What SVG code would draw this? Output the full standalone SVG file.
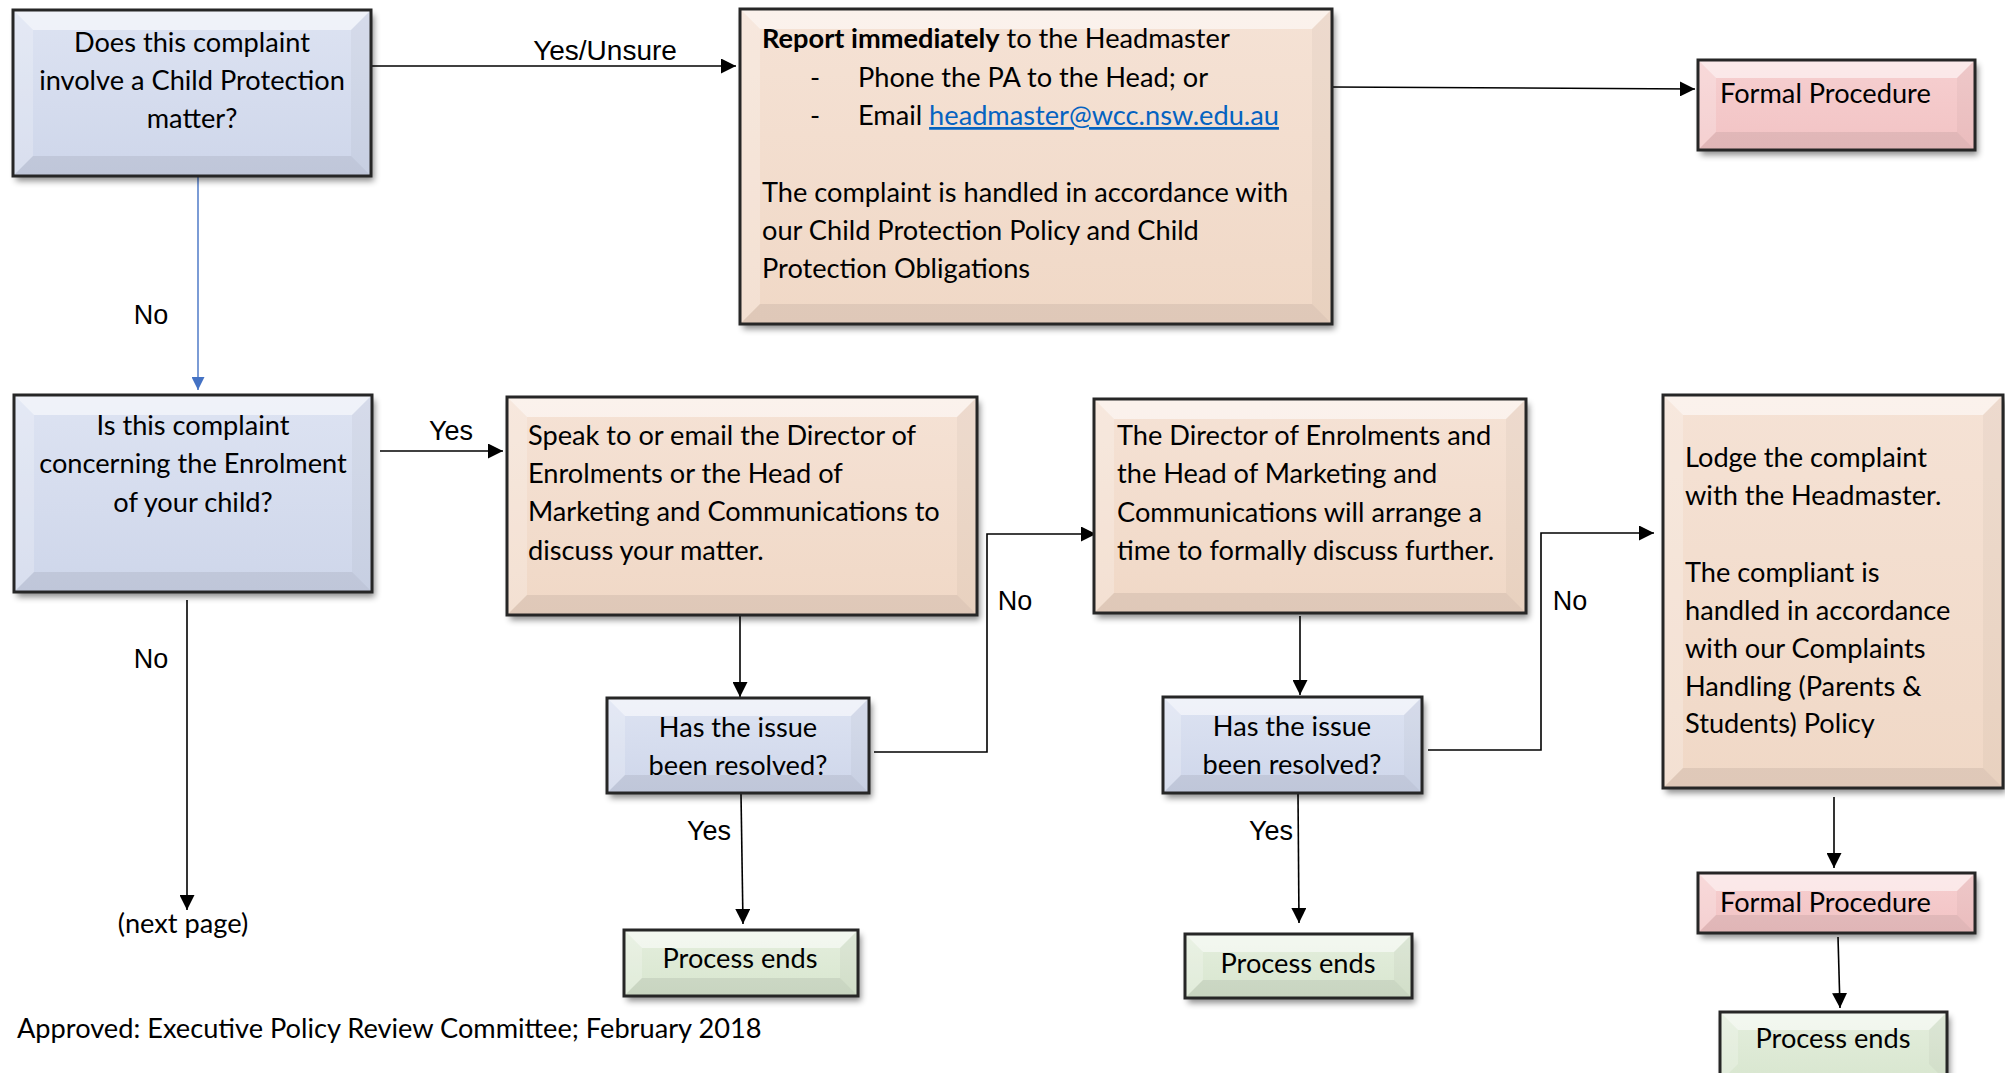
<svg xmlns="http://www.w3.org/2000/svg" width="2005" height="1073" viewBox="0 0 2005 1073">
<style>
.t{font-family:Lato,"Liberation Sans",sans-serif;font-size:27.2px;fill:#000}
.c{text-anchor:middle}
.lab{font-family:"Liberation Sans",Arial,sans-serif;font-size:27px;fill:#000}
.ln{fill:none;stroke:#000;stroke-width:1.6}
.bl{fill:none;stroke:#4472c4;stroke-width:1.4}
.bd{fill:none;stroke:#262626;stroke-width:3}
.tp{fill:#fff;opacity:.55}
.lf{fill:#fff;opacity:.22}
.rt{fill:#000;opacity:.03}
.bt{fill:#000;opacity:.07}
.blue{fill:url(#gBlue)}
.peach{fill:url(#gPeach)}
.pink{fill:url(#gPink)}
.green{fill:url(#gGreen)}
.sh{filter:url(#shadow)}
</style>
<defs>
<filter id="shadow" x="-10%" y="-10%" width="130%" height="140%">
<feDropShadow dx="3" dy="5" stdDeviation="3" flood-color="#000" flood-opacity="0.45"/>
</filter>
<linearGradient id="gBlue" x1="0" y1="0" x2="0" y2="1"><stop offset="0" stop-color="#dde3f2"/><stop offset="1" stop-color="#ced6ea"/></linearGradient>
<linearGradient id="gPeach" x1="0" y1="0" x2="0" y2="1"><stop offset="0" stop-color="#f5e2d5"/><stop offset="1" stop-color="#f0d8c6"/></linearGradient>
<linearGradient id="gPink" x1="0" y1="0" x2="0" y2="1"><stop offset="0" stop-color="#f6cfd0"/><stop offset="1" stop-color="#f2c3c4"/></linearGradient>
<linearGradient id="gGreen" x1="0" y1="0" x2="0" y2="1"><stop offset="0" stop-color="#e4eedd"/><stop offset="1" stop-color="#d8e6cf"/></linearGradient>
<marker id="ahL" viewBox="0 0 10 10" refX="10" refY="5" markerWidth="15" markerHeight="15" markerUnits="userSpaceOnUse" orient="auto"><path d="M0,0 L10,5 L0,10 z" fill="#000"/></marker>
<marker id="ahbL" viewBox="0 0 10 10" refX="10" refY="5" markerWidth="13" markerHeight="13" markerUnits="userSpaceOnUse" orient="auto"><path d="M0,0 L10,5 L0,10 z" fill="#4472c4"/></marker>
</defs>
<rect width="2005" height="1073" fill="#fff"/>

<g id="connectors">
<line class="ln" x1="371" y1="66" x2="736" y2="66" marker-end="url(#ahL)"/>
<line class="ln" x1="1332" y1="87" x2="1695" y2="89" marker-end="url(#ahL)"/>
<line class="bl" x1="198" y1="177" x2="198" y2="390" marker-end="url(#ahbL)"/>
<line class="ln" x1="380" y1="451" x2="503" y2="451" marker-end="url(#ahL)"/>
<line class="ln" x1="187" y1="600" x2="187" y2="910" marker-end="url(#ahL)"/>
<line class="ln" x1="740" y1="616" x2="740" y2="697" marker-end="url(#ahL)"/>
<line class="ln" x1="741" y1="794" x2="743" y2="924" marker-end="url(#ahL)"/>
<polyline class="ln" points="874,752 987,752 987,534 1096,534" marker-end="url(#ahL)"/>
<line class="ln" x1="1300" y1="616" x2="1300" y2="695" marker-end="url(#ahL)"/>
<line class="ln" x1="1298" y1="794" x2="1299" y2="923" marker-end="url(#ahL)"/>
<polyline class="ln" points="1428,750 1541,750 1541,533 1654,533" marker-end="url(#ahL)"/>
<line class="ln" x1="1834" y1="797" x2="1834" y2="868" marker-end="url(#ahL)"/>
<line class="ln" x1="1838" y1="937" x2="1840" y2="1008" marker-end="url(#ahL)"/>
<text class="lab" x="605" y="60" text-anchor="middle" style="font-size:28px">Yes/Unsure</text>
<text class="lab" x="151" y="324" text-anchor="middle">No</text>
<text class="lab" x="451" y="440" text-anchor="middle">Yes</text>
<text class="lab" x="151" y="668" text-anchor="middle">No</text>
<text class="lab" x="1015" y="610" text-anchor="middle">No</text>
<text class="lab" x="1570" y="610" text-anchor="middle">No</text>
<text class="lab" x="709" y="840" text-anchor="middle">Yes</text>
<text class="lab" x="1271" y="840" text-anchor="middle">Yes</text>
</g>

<g id="nodeA">
<rect class="blue sh" x="13" y="10" width="358" height="166"/>
<polygon class="tp" points="13,10 371,10 351,30 33,30"/>
<polygon class="lf" points="13,10 33,30 33,156 13,176"/>
<polygon class="rt" points="371,10 371,176 351,156 351,30"/>
<polygon class="bt" points="13,176 33,156 351,156 371,176"/>
<rect class="bd" x="13" y="10" width="358" height="166"/>
<text class="t c" x="192" y="52">Does this complaint</text>
<text class="t c" x="192" y="90">involve a Child Protection</text>
<text class="t c" x="192" y="128">matter?</text>
</g>

<g id="nodeB">
<rect class="peach sh" x="740" y="9" width="592" height="315"/>
<polygon class="tp" points="740,9 1332,9 1312,29 760,29"/>
<polygon class="lf" points="740,9 760,29 760,304 740,324"/>
<polygon class="rt" points="1332,9 1332,324 1312,304 1312,29"/>
<polygon class="bt" points="740,324 760,304 1312,304 1332,324"/>
<rect class="bd" x="740" y="9" width="592" height="315"/>
<text class="t" x="762" y="48"><tspan font-weight="bold">Report immediately</tspan> to the Headmaster</text>
<text class="t" x="810" y="87">-</text>
<text class="t" x="858" y="87">Phone the PA to the Head; or</text>
<text class="t" x="810" y="125">-</text>
<text class="t" x="858" y="125">Email <tspan fill="#0563c1" text-decoration="underline">headmaster@wcc.nsw.edu.au</tspan></text>
<text class="t" x="762" y="202">The complaint is handled in accordance with</text>
<text class="t" x="762" y="240">our Child Protection Policy and Child</text>
<text class="t" x="762" y="278">Protection Obligations</text>
</g>

<g id="nodeC">
<rect class="pink sh" x="1698" y="60" width="277" height="90"/>
<polygon class="tp" points="1698,60 1975,60 1957,78 1716,78"/>
<polygon class="lf" points="1698,60 1716,78 1716,132 1698,150"/>
<polygon class="rt" points="1975,60 1975,150 1957,132 1957,78"/>
<polygon class="bt" points="1698,150 1716,132 1957,132 1975,150"/>
<rect class="bd" x="1698" y="60" width="277" height="90"/>
<text class="t" x="1720" y="103">Formal Procedure</text>
</g>

<g id="nodeD">
<rect class="blue sh" x="14" y="395" width="358" height="197"/>
<polygon class="tp" points="14,395 372,395 352,415 34,415"/>
<polygon class="lf" points="14,395 34,415 34,572 14,592"/>
<polygon class="rt" points="372,395 372,592 352,572 352,415"/>
<polygon class="bt" points="14,592 34,572 352,572 372,592"/>
<rect class="bd" x="14" y="395" width="358" height="197"/>
<text class="t c" x="193" y="435">Is this complaint</text>
<text class="t c" x="193" y="473">concerning the Enrolment</text>
<text class="t c" x="193" y="512">of your child?</text>
</g>

<g id="nodeE">
<rect class="peach sh" x="507" y="397" width="470" height="218"/>
<polygon class="tp" points="507,397 977,397 957,417 527,417"/>
<polygon class="lf" points="507,397 527,417 527,595 507,615"/>
<polygon class="rt" points="977,397 977,615 957,595 957,417"/>
<polygon class="bt" points="507,615 527,595 957,595 977,615"/>
<rect class="bd" x="507" y="397" width="470" height="218"/>
<text class="t" x="528" y="445">Speak to or email the Director of</text>
<text class="t" x="528" y="483">Enrolments or the Head of</text>
<text class="t" x="528" y="521">Marketing and Communications to</text>
<text class="t" x="528" y="560">discuss your matter.</text>
</g>

<g id="nodeF1">
<rect class="blue sh" x="607" y="698" width="262" height="95"/>
<polygon class="tp" points="607,698 869,698 851,716 625,716"/>
<polygon class="lf" points="607,698 625,716 625,775 607,793"/>
<polygon class="rt" points="869,698 869,793 851,775 851,716"/>
<polygon class="bt" points="607,793 625,775 851,775 869,793"/>
<rect class="bd" x="607" y="698" width="262" height="95"/>
<text class="t c" x="738" y="737">Has the issue</text>
<text class="t c" x="738" y="775">been resolved?</text>
</g>

<g id="nodeG1">
<rect class="green sh" x="624" y="930" width="234" height="66"/>
<polygon class="tp" points="624,930 858,930 840,948 642,948"/>
<polygon class="lf" points="624,930 642,948 642,978 624,996"/>
<polygon class="rt" points="858,930 858,996 840,978 840,948"/>
<polygon class="bt" points="624,996 642,978 840,978 858,996"/>
<rect class="bd" x="624" y="930" width="234" height="66"/>
<text class="t c" x="740" y="968">Process ends</text>
</g>

<g id="nodeH">
<rect class="peach sh" x="1094" y="399" width="432" height="214"/>
<polygon class="tp" points="1094,399 1526,399 1506,419 1114,419"/>
<polygon class="lf" points="1094,399 1114,419 1114,593 1094,613"/>
<polygon class="rt" points="1526,399 1526,613 1506,593 1506,419"/>
<polygon class="bt" points="1094,613 1114,593 1506,593 1526,613"/>
<rect class="bd" x="1094" y="399" width="432" height="214"/>
<text class="t" x="1117" y="445">The Director of Enrolments and</text>
<text class="t" x="1117" y="483">the Head of Marketing and</text>
<text class="t" x="1117" y="522">Communications will arrange a</text>
<text class="t" x="1117" y="560">time to formally discuss further.</text>
</g>

<g id="nodeF2">
<rect class="blue sh" x="1163" y="697" width="259" height="96"/>
<polygon class="tp" points="1163,697 1422,697 1404,715 1181,715"/>
<polygon class="lf" points="1163,697 1181,715 1181,775 1163,793"/>
<polygon class="rt" points="1422,697 1422,793 1404,775 1404,715"/>
<polygon class="bt" points="1163,793 1181,775 1404,775 1422,793"/>
<rect class="bd" x="1163" y="697" width="259" height="96"/>
<text class="t c" x="1292" y="736">Has the issue</text>
<text class="t c" x="1292" y="774">been resolved?</text>
</g>

<g id="nodeG2">
<rect class="green sh" x="1185" y="934" width="227" height="64"/>
<polygon class="tp" points="1185,934 1412,934 1394,952 1203,952"/>
<polygon class="lf" points="1185,934 1203,952 1203,980 1185,998"/>
<polygon class="rt" points="1412,934 1412,998 1394,980 1394,952"/>
<polygon class="bt" points="1185,998 1203,980 1394,980 1412,998"/>
<rect class="bd" x="1185" y="934" width="227" height="64"/>
<text class="t c" x="1298" y="973">Process ends</text>
</g>

<g id="nodeI">
<rect class="peach sh" x="1663" y="395" width="340" height="393"/>
<polygon class="tp" points="1663,395 2003,395 1983,415 1683,415"/>
<polygon class="lf" points="1663,395 1683,415 1683,768 1663,788"/>
<polygon class="rt" points="2003,395 2003,788 1983,768 1983,415"/>
<polygon class="bt" points="1663,788 1683,768 1983,768 2003,788"/>
<rect class="bd" x="1663" y="395" width="340" height="393"/>
<text class="t" x="1685" y="467">Lodge the complaint</text>
<text class="t" x="1685" y="505">with the Headmaster.</text>
<text class="t" x="1685" y="582">The compliant is</text>
<text class="t" x="1685" y="620">handled in accordance</text>
<text class="t" x="1685" y="658">with our Complaints</text>
<text class="t" x="1685" y="696">Handling (Parents &amp;</text>
<text class="t" x="1685" y="733">Students) Policy</text>
</g>

<g id="nodeJ">
<rect class="pink sh" x="1698" y="873" width="277" height="60"/>
<polygon class="tp" points="1698,873 1975,873 1957,891 1716,891"/>
<polygon class="lf" points="1698,873 1716,891 1716,915 1698,933"/>
<polygon class="rt" points="1975,873 1975,933 1957,915 1957,891"/>
<polygon class="bt" points="1698,933 1716,915 1957,915 1975,933"/>
<rect class="bd" x="1698" y="873" width="277" height="60"/>
<text class="t" x="1720" y="912">Formal Procedure</text>
</g>

<g id="nodeK">
<rect class="green sh" x="1720" y="1012" width="227" height="70"/>
<polygon class="tp" points="1720,1012 1947,1012 1929,1030 1738,1030"/>
<polygon class="lf" points="1720,1012 1738,1030 1738,1064 1720,1082"/>
<polygon class="rt" points="1947,1012 1947,1082 1929,1064 1929,1030"/>
<rect class="bd" x="1720" y="1012" width="227" height="70"/>
<text class="t c" x="1833" y="1048">Process ends</text>
</g>

<g id="notes">
<text class="t c" x="183" y="933">(next page)</text>
<text class="t" x="17" y="1038">Approved: Executive Policy Review Committee; February 2018</text>
</g>
</svg>
